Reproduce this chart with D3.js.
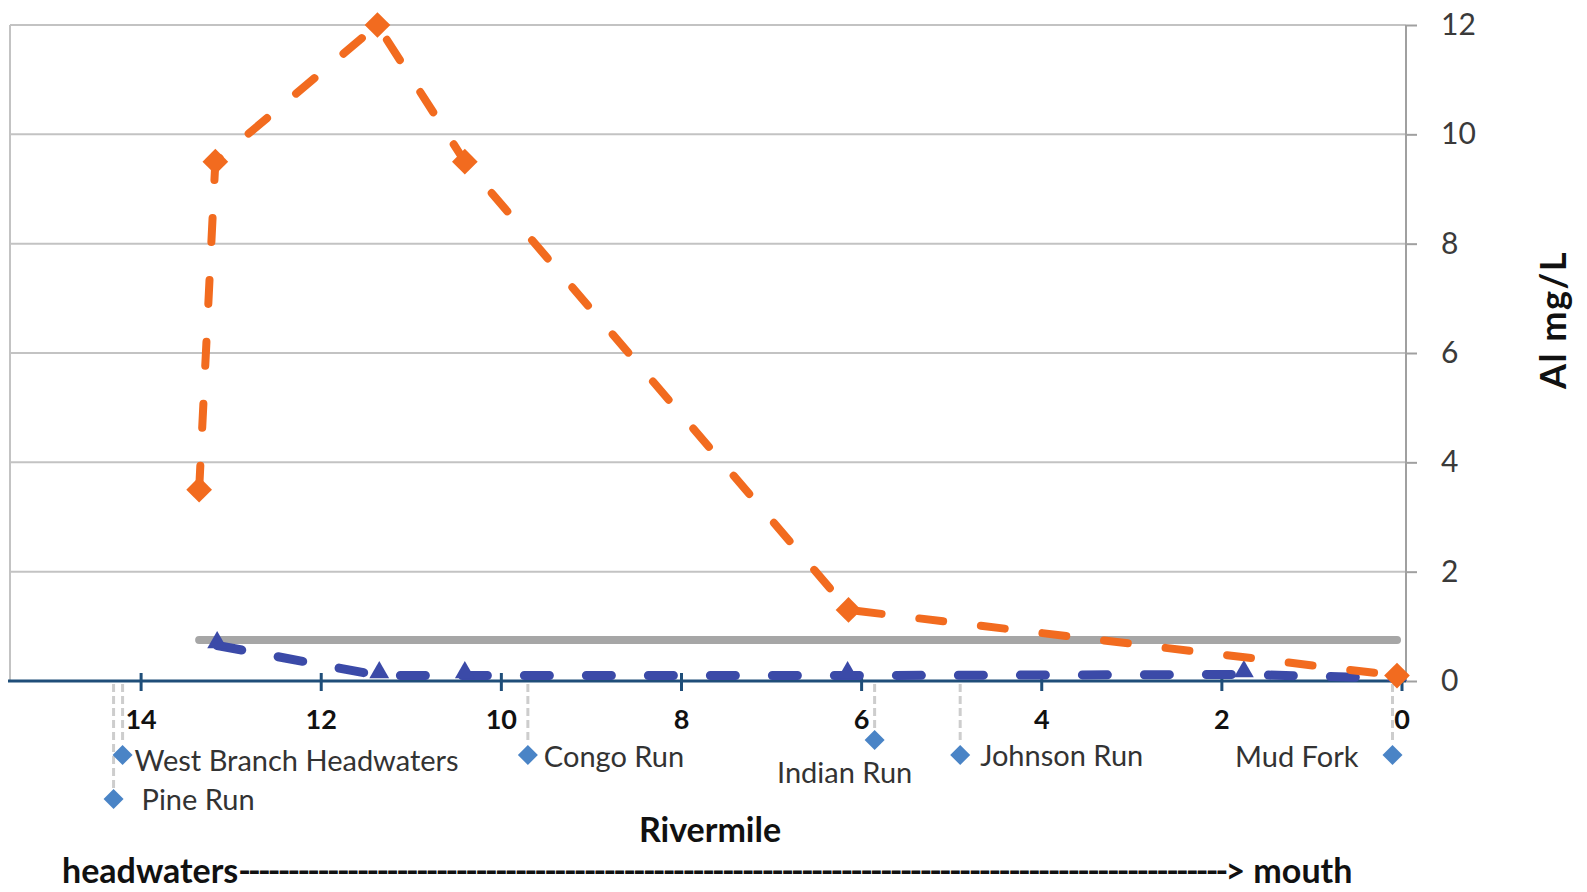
<!DOCTYPE html>
<html>
<head>
<meta charset="utf-8">
<script src="https://cdn.jsdelivr.net/npm/d3@7"></script>
<style>
  body { margin: 0; background: #fff; }
  svg { display: block; font-family: Lato, "Open Sans", sans-serif; }
</style>
</head>
<body>
<svg id="chart" width="1587" height="892"></svg>
<script>
// Total Al along the river (orange)
const totalMiles = [13.35, 13.17, 11.37, 10.4, 6.14, 0.05];
const totalAl = [3.5, 9.5, 12.0, 9.5, 1.3, 0.1];

// Dissolved Al (blue)
const dissolvedMiles = [13.15, 11.35, 10.4, 6.15, 1.75, 0.05];
const dissolvedAl = [0.65, 0.1, 0.1, 0.1, 0.12, 0.05];

// Criterion (grey line)
const criterionMiles = [13.35, 0.05];
const criterionAl = [0.75, 0.75];

// Tributaries entering the river
const tribNames = ["West Branch Headwaters", "Pine Run", "Congo Run", "Indian Run", "Johnson Run", "Mud Fork"];
const tribMiles = [14.2, 14.3, 9.7, 5.85, 4.9, 0.1];

const xTicks = [14, 12, 10, 8, 6, 4, 2, 0];
const yTicks = [0, 2, 4, 6, 8, 10, 12];

// Where the tributary markers and labels sit below the axis
const tribLayout = {
  "West Branch Headwaters": { drop: 74, dx: 12, dy: 90, anchor: "start" },
  "Pine Run": { drop: 118, dx: 28, dy: 129, anchor: "start" },
  "Congo Run": { drop: 74, dx: 16, dy: 86, anchor: "start" },
  "Indian Run": { drop: 59, dx: -30, dy: 102, anchor: "middle" },
  "Johnson Run": { drop: 74, dx: 20, dy: 85, anchor: "start" },
  "Mud Fork": { drop: 74, dx: -34, dy: 86, anchor: "end" }
};

const LEFT = 10, RIGHT = 1406, TOP = 25, BOTTOM = 681;

const svg = d3.select("#chart");

const x = d3.scaleLinear().domain([15.45, -0.05]).range([LEFT, RIGHT]);
const y = d3.scaleLinear().domain([0, 12]).range([BOTTOM, TOP]);

// gridlines
svg.append("g")
  .selectAll("line")
  .data(yTicks.filter((d) => d > 0))
  .enter()
  .append("line")
  .attr("x1", LEFT)
  .attr("x2", RIGHT)
  .attr("y1", (d) => y(d))
  .attr("y2", (d) => y(d))
  .style("stroke", "#c3c3c3")
  .style("stroke-width", 2);

// left border of plot area
svg.append("line")
  .attr("x1", LEFT).attr("x2", LEFT)
  .attr("y1", TOP).attr("y2", BOTTOM)
  .style("stroke", "#c3c3c3")
  .style("stroke-width", 2);

// right value axis
const yAxis = svg.append("g")
  .attr("transform", `translate(${RIGHT},0)`)
  .call(d3.axisRight(y).tickValues(yTicks).tickSize(11).tickPadding(24).tickFormat(d3.format("d")));
yAxis.select(".domain").attr("d", `M0,${TOP}V${BOTTOM}`).style("stroke", "#a0a0a0").style("stroke-width", 2);
yAxis.selectAll(".tick line").style("stroke", "#a0a0a0").style("stroke-width", 2);
yAxis.selectAll(".tick text")
  .style("font-size", "30px")
  .style("fill", "#3a3a3a")
  .style("font-family", "Lato, sans-serif");

svg.append("text")
  .attr("transform", `translate(1553,320) rotate(-90)`)
  .attr("text-anchor", "middle")
  .attr("dy", "0.35em")
  .style("font-size", "36px")
  .style("font-weight", "bold")
  .style("letter-spacing", "1.5px")
  .style("fill", "#111")
  .text("Al mg/L");

// tributary leaders, markers and labels
const tribs = tribNames.map((name, i) => ({ name, mile: tribMiles[i], ...tribLayout[name] }));

svg.append("g")
  .selectAll("line")
  .data(tribs)
  .enter()
  .append("line")
  .attr("x1", (d) => x(d.mile))
  .attr("x2", (d) => x(d.mile))
  .attr("y1", BOTTOM + 3)
  .attr("y2", (d) => BOTTOM + d.drop - 11)
  .style("stroke", "#cdcdcd")
  .style("stroke-width", 3)
  .style("stroke-dasharray", "8,4");

svg.append("g")
  .selectAll("path")
  .data(tribs)
  .enter()
  .append("path")
  .attr("d", d3.symbol().type(d3.symbolSquare).size(200))
  .attr("transform", (d) => `translate(${x(d.mile)},${BOTTOM + d.drop}) rotate(45)`)
  .style("fill", "#4a84c6");

svg.append("g")
  .selectAll("text")
  .data(tribs)
  .enter()
  .append("text")
  .attr("x", (d) => x(d.mile) + d.dx)
  .attr("y", (d) => BOTTOM + d.dy)
  .attr("text-anchor", (d) => d.anchor)
  .style("font-size", "29px")
  .style("fill", "#333")
  .text((d) => d.name);

// x axis (blue line through zero)
const xAxis = svg.append("g")
  .attr("transform", `translate(0,${BOTTOM})`)
  .call(d3.axisBottom(x).tickValues(xTicks).tickSize(10).tickPadding(0));
xAxis.select(".domain").attr("d", `M${LEFT - 2},0H${RIGHT}`).style("stroke", "#1f4e79").style("stroke-width", 3);
xAxis.selectAll(".tick line").attr("y1", -8).style("stroke", "#1f4e79").style("stroke-width", 3);
xAxis.selectAll(".tick text")
  .attr("y", 48)
  .attr("dy", 0)
  .style("font-size", "27px")
  .style("font-weight", "bold")
  .style("fill", "#111")
  .style("font-family", "Lato, sans-serif");

const line = d3.line().x((d) => x(d[0])).y((d) => y(d[1]));

// criterion
svg.append("path")
  .datum(d3.zip(criterionMiles, criterionAl))
  .attr("d", line)
  .style("fill", "none")
  .style("stroke", "#a6a6a6")
  .style("stroke-width", 8)
  .style("stroke-linecap", "round");

// dissolved Al
svg.append("path")
  .datum(d3.zip(dissolvedMiles, dissolvedAl))
  .attr("d", line)
  .style("fill", "none")
  .style("stroke", "#3b4aa8")
  .style("stroke-width", 9)
  .style("stroke-linecap", "round")
  .style("stroke-dasharray", "25,37");

svg.append("g")
  .selectAll("path")
  .data(d3.zip(dissolvedMiles, dissolvedAl))
  .enter()
  .append("path")
  .attr("d", d3.symbol().type(d3.symbolTriangle).size(170))
  .attr("transform", (d) => `translate(${x(d[0])},${y(d[1]) - 3})`)
  .style("fill", "#3b4aa8");

// total Al
svg.append("path")
  .datum(d3.zip(totalMiles, totalAl))
  .attr("d", line)
  .style("fill", "none")
  .style("stroke", "#f26b1f")
  .style("stroke-width", 8)
  .style("stroke-linecap", "round")
  .style("stroke-dasharray", "24,38");

svg.append("g")
  .selectAll("path")
  .data(d3.zip(totalMiles, totalAl))
  .enter()
  .append("path")
  .attr("d", d3.symbol().type(d3.symbolSquare).size(330))
  .attr("transform", (d) => `translate(${x(d[0])},${y(d[1])}) rotate(45)`)
  .style("fill", "#f26b1f");

// axis title and direction note
svg.append("text")
  .attr("x", 710)
  .attr("y", 842)
  .attr("text-anchor", "middle")
  .style("font-size", "34px")
  .style("font-weight", "bold")
  .style("fill", "#111")
  .text("Rivermile");

const note = svg.append("text")
  .attr("x", 62)
  .attr("y", 883)
  .style("font-size", "34px")
  .style("font-weight", "bold")
  .style("fill", "#111");
note.append("tspan").text("headwaters");
note.append("tspan")
  .attr("textLength", 990)
  .attr("lengthAdjust", "spacing")
  .text("-".repeat(100));
note.append("tspan").text("> mouth");
</script>
</body>
</html>
